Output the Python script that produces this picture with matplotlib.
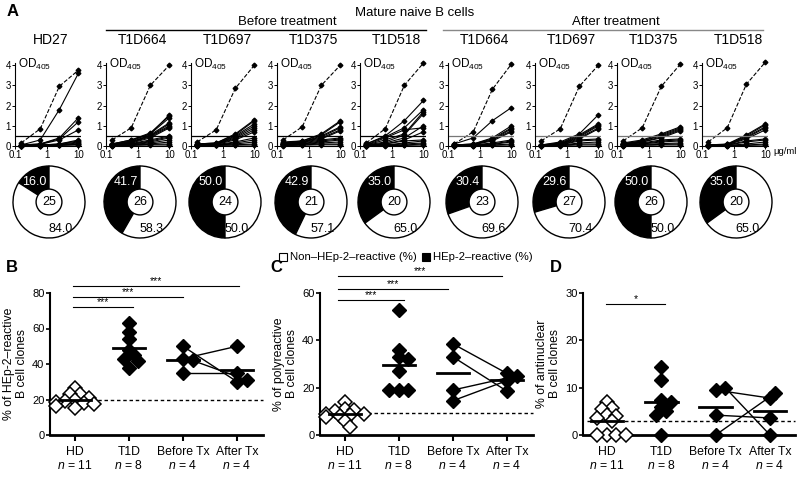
import numpy as np
import matplotlib
matplotlib.use("Agg")
import matplotlib.pyplot as plt
import matplotlib.transforms as mtransforms
from matplotlib.lines import Line2D
from matplotlib.patches import Rectangle, Circle

plt.rcParams["font.family"] = ["Liberation Sans", "DejaVu Sans"]
plt.rcParams["mathtext.fontset"] = "custom"
plt.rcParams["mathtext.rm"] = "Liberation Sans"
plt.rcParams["mathtext.it"] = "Liberation Sans:italic"

# ---- panel A: ELISA curves (OD405 vs concentration, ug/ml) ----
conc = [0.156, 0.625, 2.5, 10]
elisa_titles = ["HD27", "T1D664", "T1D697", "T1D375", "T1D518",
                "T1D664", "T1D697", "T1D375", "T1D518"]
elisa_controls = [
    [0.15, 0.85, 2.95, 3.75],
    [0.30, 0.90, 3.00, 4.00],
    [0.20, 0.80, 2.85, 4.00],
    [0.30, 0.95, 3.00, 4.00],
    [0.15, 0.85, 3.00, 4.10],
    [0.10, 0.70, 2.80, 4.05],
    [0.25, 0.85, 2.95, 4.00],
    [0.25, 0.90, 2.95, 4.05],
    [0.20, 0.90, 3.05, 4.15],
]
elisa_clones = [
    [[0.05, 0.30, 1.80, 3.60], [0.05, 0.10, 0.40, 1.40], [0.05, 0.10, 0.35, 1.20],
     [0.03, 0.08, 0.30, 0.80], [0.02, 0.05, 0.10, 0.30], [0.02, 0.04, 0.10, 0.25],
     [0.01, 0.03, 0.08, 0.20], [0.01, 0.03, 0.06, 0.15], [0.01, 0.02, 0.05, 0.10],
     [0.00, 0.02, 0.04, 0.08], [0.00, 0.01, 0.03, 0.05]],
    [[0.10, 0.30, 0.60, 1.55], [0.10, 0.30, 0.65, 1.50], [0.10, 0.25, 0.60, 1.40],
     [0.10, 0.20, 0.55, 1.15], [0.08, 0.20, 0.50, 1.10], [0.08, 0.20, 0.50, 1.00],
     [0.07, 0.18, 0.45, 0.95], [0.07, 0.15, 0.40, 0.90], [0.05, 0.12, 0.30, 0.50],
     [0.05, 0.10, 0.25, 0.45], [0.05, 0.10, 0.20, 0.40], [0.04, 0.08, 0.15, 0.30],
     [0.03, 0.06, 0.10, 0.20], [0.02, 0.04, 0.08, 0.10], [0.02, 0.03, 0.05, 0.05]],
    [[0.10, 0.15, 0.60, 1.30], [0.10, 0.15, 0.55, 1.25], [0.08, 0.12, 0.50, 1.10],
     [0.07, 0.12, 0.45, 1.00], [0.06, 0.10, 0.40, 0.90], [0.05, 0.10, 0.35, 0.80],
     [0.05, 0.08, 0.30, 0.70], [0.04, 0.07, 0.20, 0.40], [0.04, 0.06, 0.15, 0.30],
     [0.03, 0.05, 0.10, 0.20], [0.02, 0.04, 0.06, 0.10], [0.02, 0.03, 0.04, 0.05]],
    [[0.20, 0.25, 0.60, 1.25], [0.15, 0.25, 0.55, 1.20], [0.15, 0.20, 0.50, 0.95],
     [0.10, 0.20, 0.45, 0.90], [0.10, 0.20, 0.40, 0.80], [0.10, 0.18, 0.35, 0.75],
     [0.08, 0.15, 0.30, 0.40], [0.08, 0.12, 0.25, 0.35], [0.05, 0.10, 0.20, 0.30],
     [0.05, 0.08, 0.15, 0.20], [0.03, 0.05, 0.10, 0.10], [0.02, 0.04, 0.06, 0.06]],
    [[0.10, 0.50, 1.25, 2.25], [0.10, 0.45, 0.90, 1.80], [0.05, 0.30, 0.60, 1.70],
     [0.05, 0.20, 0.55, 1.60], [0.05, 0.40, 0.80, 0.90], [0.03, 0.15, 0.40, 1.00],
     [0.03, 0.10, 0.30, 0.70], [0.02, 0.10, 0.25, 0.30], [0.02, 0.05, 0.15, 0.25],
     [0.01, 0.04, 0.10, 0.15], [0.01, 0.03, 0.05, 0.10], [0.00, 0.02, 0.03, 0.05]],
    [[0.10, 0.40, 1.25, 1.90], [0.05, 0.10, 0.40, 1.00], [0.05, 0.10, 0.35, 0.90],
     [0.04, 0.08, 0.30, 0.85], [0.04, 0.08, 0.30, 0.75], [0.03, 0.06, 0.25, 0.70],
     [0.03, 0.05, 0.15, 0.30], [0.02, 0.04, 0.10, 0.25], [0.02, 0.03, 0.08, 0.20],
     [0.01, 0.02, 0.05, 0.10], [0.01, 0.02, 0.03, 0.05]],
    [[0.05, 0.20, 0.60, 1.55], [0.05, 0.15, 0.55, 1.10], [0.05, 0.12, 0.50, 1.05],
     [0.04, 0.10, 0.45, 1.00], [0.04, 0.10, 0.40, 0.90], [0.03, 0.08, 0.35, 0.85],
     [0.03, 0.06, 0.30, 0.35], [0.02, 0.05, 0.25, 0.30], [0.02, 0.04, 0.15, 0.20],
     [0.01, 0.03, 0.10, 0.10], [0.01, 0.02, 0.05, 0.05]],
    [[0.15, 0.30, 0.60, 0.95], [0.12, 0.25, 0.55, 0.90], [0.10, 0.25, 0.50, 0.85],
     [0.10, 0.20, 0.45, 0.80], [0.08, 0.20, 0.40, 0.75], [0.08, 0.15, 0.30, 0.35],
     [0.05, 0.12, 0.25, 0.30], [0.05, 0.10, 0.20, 0.25], [0.03, 0.08, 0.12, 0.15],
     [0.02, 0.05, 0.08, 0.10], [0.02, 0.03, 0.05, 0.05]],
    [[0.05, 0.10, 0.55, 1.10], [0.04, 0.08, 0.50, 1.05], [0.04, 0.08, 0.45, 0.95],
     [0.03, 0.07, 0.40, 0.90], [0.03, 0.06, 0.35, 0.80], [0.02, 0.05, 0.25, 0.35],
     [0.02, 0.04, 0.20, 0.30], [0.01, 0.03, 0.10, 0.20], [0.01, 0.02, 0.05, 0.10],
     [0.00, 0.01, 0.03, 0.05]],
]
od_cutoff = 0.5

# pies
hep2_pct = [16.0, 41.7, 50.0, 42.9, 35.0, 30.4, 29.6, 50.0, 35.0]
non_hep2_pct = [84.0, 58.3, 50.0, 57.1, 65.0, 69.6, 70.4, 50.0, 65.0]
n_clones = [25, 26, 24, 21, 20, 23, 27, 26, 20]

# ---- panels B-D ----
groups = ["HD", "T1D", "Before Tx", "After Tx"]
group_n = [11, 8, 4, 4]

hep2_hd = [26.5, 23, 23, 21, 20, 19, 18.5, 18, 17.5, 16.5, 15]
hep2_t1d = [63, 58, 54, 48, 45, 43, 41.5, 38]
hep2_before = [43, 50, 42, 35]
hep2_after = [50, 30, 31, 35]

poly_hd = [14, 11, 10.5, 10, 9, 9, 8.5, 8, 7.5, 6, 3.5]
poly_t1d = [53, 36, 33, 32, 27, 19, 19, 19]
poly_before = [38.5, 33, 19, 14.5]
poly_after = [26, 18.5, 25, 23]

ana_hd = [7, 5.8, 5.5, 4.3, 4.1, 3.5, 2.9, 0, 0, 0, 0]
ana_t1d = [14.3, 11.6, 7.5, 7, 6, 5, 4.2, 0]
ana_before = [9.5, 10, 0, 4.2]
ana_after = [7.8, 0, 8.8, 3.6]

W, H = 798, 480


def px(x, y, w, h):
    return [x / W, 1 - (y + h) / H, w / W, h / H]


def ftext(x, y, s, **kw):
    return fig.text(x / W, 1 - y / H, s, **kw)


def fline(x1, x2, y, color="k", lw=1.0):
    fig.add_artist(Line2D([x1 / W, x2 / W], [1 - y / H, 1 - y / H],
                          color=color, lw=lw, transform=fig.transFigure))


def swarm(vals, ppu, size=9.5, xppc=54.0):
    # loose beeswarm: markers may overlap a little, like the original
    placed, offs = [], []
    for v in vals:
        y = v * ppu
        for c in [0, 1, -1, 2, -2, 3, -3, 4, -4]:
            x = c * size * 0.5
            if all((x - a) ** 2 + (y - b) ** 2 >= (0.7 * size) ** 2 for a, b in placed):
                break
        placed.append((x, y))
        offs.append(x / xppc)
    return np.array(offs)


fig = plt.figure(figsize=(W / 100, H / 100), dpi=100)
renderer = fig.canvas.get_renderer()

# ---------------- panel A ----------------
mini_left = [15, 106, 191, 277, 360, 448, 535, 617, 702]
for i in range(9):
    x0 = mini_left[i]
    ax = fig.add_axes(px(x0, 63, 66, 83))
    for c in elisa_clones[i]:
        ax.plot(conc, c, "-", color="k", lw=0.8, marker="D", ms=2.4, clip_on=False)
    ax.plot(conc, elisa_controls[i], "--", color="k", lw=0.8, marker="D", ms=2.4,
            clip_on=False)
    ax.axhline(od_cutoff, color="k" if i < 5 else "#777777", lw=0.9)
    ax.set_xscale("log")
    ax.set_xlim(0.1, 12)
    ax.set_ylim(0, 4.1)
    ax.set_xticks([0.1, 1, 10])
    ax.set_xticklabels(["0.1", "1", "10"])
    ax.minorticks_off()
    ax.set_yticks(range(5))
    for s in ["top", "right"]:
        ax.spines[s].set_visible(False)
    for s in ["left", "bottom"]:
        ax.spines[s].set_linewidth(0.8)
    ax.tick_params(labelsize=7, length=2, width=0.7, pad=1)
    ax.text(0.05, 0.985, "OD$_{405}$", transform=ax.transAxes, fontsize=8.5, va="center")
    ftext(x0 + 36, 40, elisa_titles[i], fontsize=10, ha="center", va="center")

ftext(797, 152, "μg/ml", fontsize=6.8, ha="right", va="center")
ftext(13, 12, "A", fontsize=12, weight="bold", ha="center", va="center")
ftext(415, 13, "Mature naive B cells", fontsize=9.5, ha="center", va="center")
ftext(287, 22, "Before treatment", fontsize=9.5, ha="center", va="center")
ftext(616, 22, "After treatment", fontsize=9.5, ha="center", va="center")
fline(106, 426, 30)
fline(443, 763, 30, color="#888888")

# pies
for i in range(9):
    cx = mini_left[i] + 34
    ax = fig.add_axes(px(cx - 38, 202 - 38, 76, 76))
    ax.pie([hep2_pct[i], non_hep2_pct[i]], colors=["black", "white"], startangle=90,
           counterclock=True, radius=36 / 38,
           wedgeprops=dict(edgecolor="black", linewidth=1.0))
    ax.add_patch(Circle((0, 0), 0.34, facecolor="white", edgecolor="black", lw=1.0,
                        zorder=5))
    ax.text(0, 0, str(n_clones[i]), ha="center", va="center", fontsize=9, zorder=6)
    ax.text(-0.38, 0.52, f"{hep2_pct[i]:.1f}", ha="center", va="center",
            color="white", fontsize=9, zorder=6)
    ax.text(0.3, -0.7, f"{non_hep2_pct[i]:.1f}", ha="center", va="center",
            color="black", fontsize=9, zorder=6)
    ax.set_xlim(-1, 1)
    ax.set_ylim(-1, 1)

# legend, laid out left to right from measured text widths
lx = 279.0
for face, label in [("white", "Non–HEp-2–reactive (%)"), ("black", "HEp-2–reactive (%)")]:
    fig.add_artist(Rectangle((lx / W, 1 - 261 / H), 8 / W, 8 / H, facecolor=face,
                             edgecolor="black", lw=0.8, transform=fig.transFigure))
    t = ftext(lx + 11, 257, label, fontsize=8.2, va="center")
    lx = lx + 11 + t.get_window_extent(renderer).width + 5


# ---------------- panels B-D ----------------
def dot_panel(left, width, xmin, xmax, ymax, yticks, ylabel, hd, t1d, before, after,
              cutoff, sigs, letter, lx):
    ax = fig.add_axes(px(left, 293, width, 142))
    ax.set_xlim(xmin, xmax)
    ax.set_ylim(0, ymax)
    ppu = 142 / ymax
    ax.axhline(cutoff, xmin=0.02, color="k", lw=1.0, ls=(0, (2.5, 2)), clip_on=False)

    x_hd = 0 + swarm(hd, ppu)
    x_t1d = 1 + swarm(t1d, ppu)
    x_b = 2 + swarm(before, ppu)
    x_a = 3 + swarm(after, ppu)
    for xb, xa, yb, ya in zip(x_b, x_a, before, after):
        ax.plot([xb, xa], [yb, ya], color="k", lw=1.0, zorder=2)
    ax.plot(x_hd, hd, "D", ms=7.5, mfc="white", mec="k", mew=1.1, ls="none",
            clip_on=False, zorder=3)
    for xs, ys in [(x_t1d, t1d), (x_b, before), (x_a, after)]:
        ax.plot(xs, ys, "D", ms=7.5, color="k", ls="none", clip_on=False, zorder=3)
    for k, ys in enumerate([hd, t1d, before, after]):
        ax.plot([k - 0.3, k + 0.3], [np.mean(ys)] * 2, color="k", lw=2.0, zorder=4)

    for x1, x2, y, s in sigs:
        ax.plot([x1, x2], [y, y], color="k", lw=0.8, clip_on=False)
        ax.text((x1 + x2) / 2, y, s, ha="center", va="bottom", fontsize=7.5)

    for s in ["top", "right"]:
        ax.spines[s].set_visible(False)
    ax.spines["left"].set_linewidth(1.5)
    ax.spines["bottom"].set_linewidth(2.0)
    ax.set_yticks(yticks)
    ax.set_xticks(range(4))
    ax.set_xticklabels([])
    ax.tick_params(axis="y", labelsize=8, length=3, width=1.2, pad=1)
    ax.tick_params(axis="x", length=4, width=1.5)
    trans = mtransforms.blended_transform_factory(ax.transData, ax.transAxes)
    for k in range(4):
        ax.text(k, -0.12, groups[k], transform=trans, ha="center", va="center",
                fontsize=8.8)
        ax.text(k, -0.215, f"$n$ = {group_n[k]}", transform=trans, ha="center",
                va="center", fontsize=8.8)
    ax.set_ylabel(ylabel, fontsize=8.8, labelpad=3, linespacing=1.1)
    ftext(lx, 268, letter, fontsize=12, weight="bold", ha="center", va="center")
    return ax


dot_panel(50, 213, -0.46, 3.48, 80, [0, 20, 40, 60, 80],
          "% of HEp-2–reactive\nB cell clones",
          hep2_hd, hep2_t1d, hep2_before, hep2_after, 19.5,
          [(-0.04, 3.03, 84, "***"), (-0.04, 2.0, 77.7, "***"), (-0.04, 1.07, 72, "***")],
          "B", 12)
dot_panel(320, 213, -0.46, 3.48, 60, [0, 20, 40, 60],
          "% of polyreactive\nB cell clones",
          poly_hd, poly_t1d, poly_before, poly_after, 9.3,
          [(-0.13, 2.9, 67.2, "***"), (-0.13, 1.9, 61.7, "***"), (-0.13, 1.1, 57, "***")],
          "C", 276)
dot_panel(583, 212, -0.44, 3.46, 30, [0, 10, 20, 30],
          "% of antinuclear\nB cell clones",
          ana_hd, ana_t1d, ana_before, ana_after, 3.0,
          [(-0.02, 1.07, 27.7, "*")],
          "D", 556)

fig.savefig("out.png", dpi=100)
